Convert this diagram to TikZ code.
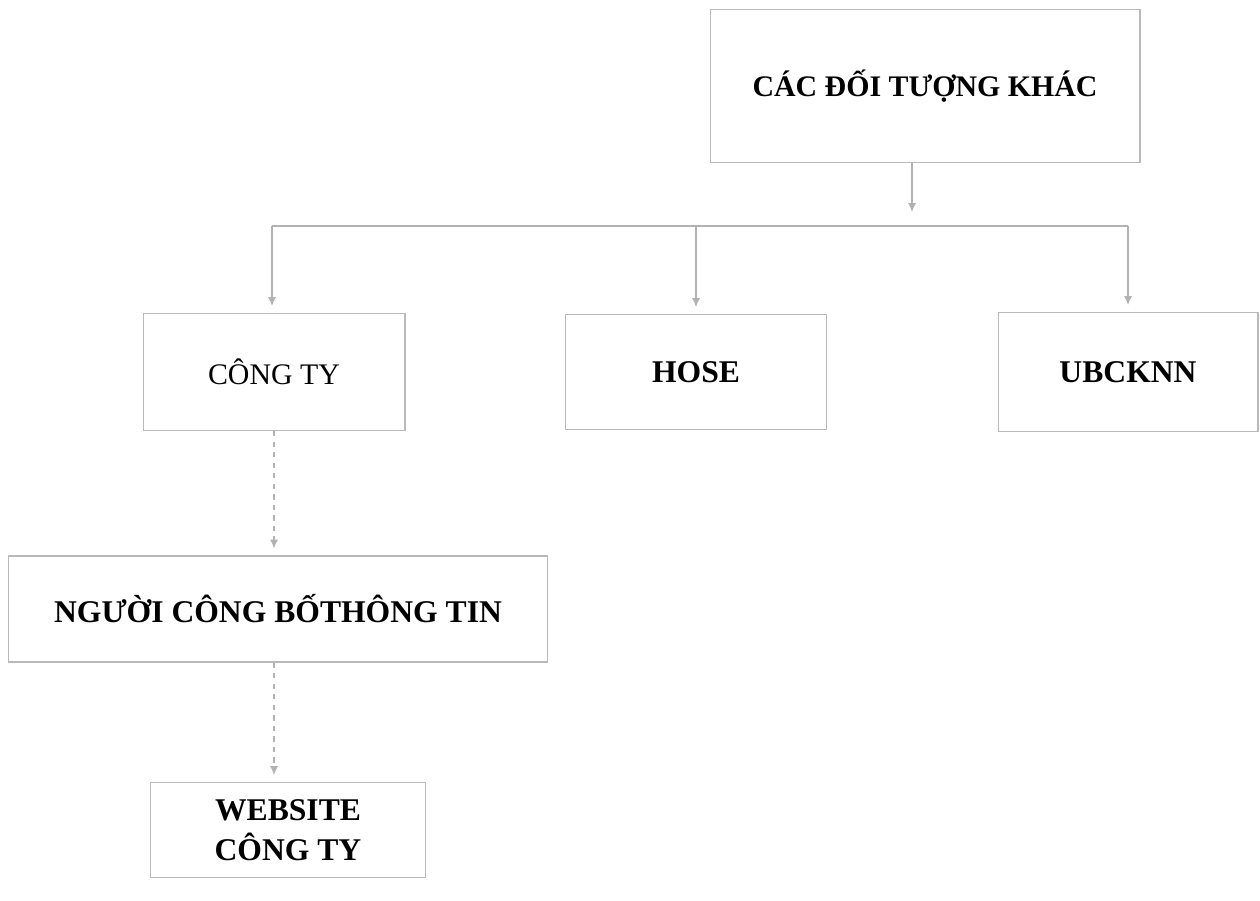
\documentclass[tikz,border=0pt]{standalone}
\usepackage{fontspec}
\setmainfont{Liberation Serif}
\usetikzlibrary{arrows.meta,positioning}

\begin{document}
\begin{tikzpicture}[x=0.02cm,y=-0.02cm,
  box/.style={draw=gray!55, line width=0.6pt, align=center, inner sep=0pt,
    font=\bfseries\fontsize{18}{23}\selectfont},
  line/.style={draw=gray!60, line width=0.6pt},
  link/.style={line, -{Latex[length=5pt,width=4.5pt]}, shorten >=4pt}]
  \useasboundingbox (0,0) rectangle (1260,900);
   \node[box, minimum width=8.6cm, minimum height=3.06cm,
     font=\bfseries\fontsize{17}{21}\selectfont] (K) at (925,86) {CÁC ĐỐI TƯỢNG KHÁC};
   \node[box, minimum width=5.24cm, minimum height=2.34cm,
     font=\fontsize{17}{21}\selectfont] (C) at (274,372) {CÔNG TY};
   \node[box, minimum width=5.22cm, minimum height=2.3cm] (H) at (696,372) {HOSE};
   \node[box, minimum width=5.2cm, minimum height=2.38cm] (U) at (1128,372) {UBCKNN};
   \node[box, minimum width=10.8cm, minimum height=2.12cm] (N) at (278,609) {NGƯỜI CÔNG BỐTHÔNG TIN};
   \node[box, minimum width=5.5cm, minimum height=1.9cm] (W) at (288,830) {WEBSITE\\CÔNG TY};
   \coordinate (J) at (912,219);
   \coordinate (L) at (272,226);
   \coordinate (R) at (1128,226);
   \draw[link] (K.south -| J) -- (J);
   \draw[line] (L) -- (R);
   \draw[link] (L) -- (C.north -| L);
   \draw[link] (H.north |- L) -- (H.north);
   \draw[link] (R) -- (U.north -| R);
   \draw[link, dashed] (C.south) -- (N.north -| C.south);
   \draw[link, dashed] (N.south -| C.south) -- (W.north -| C.south);
\end{tikzpicture}
\end{document}
